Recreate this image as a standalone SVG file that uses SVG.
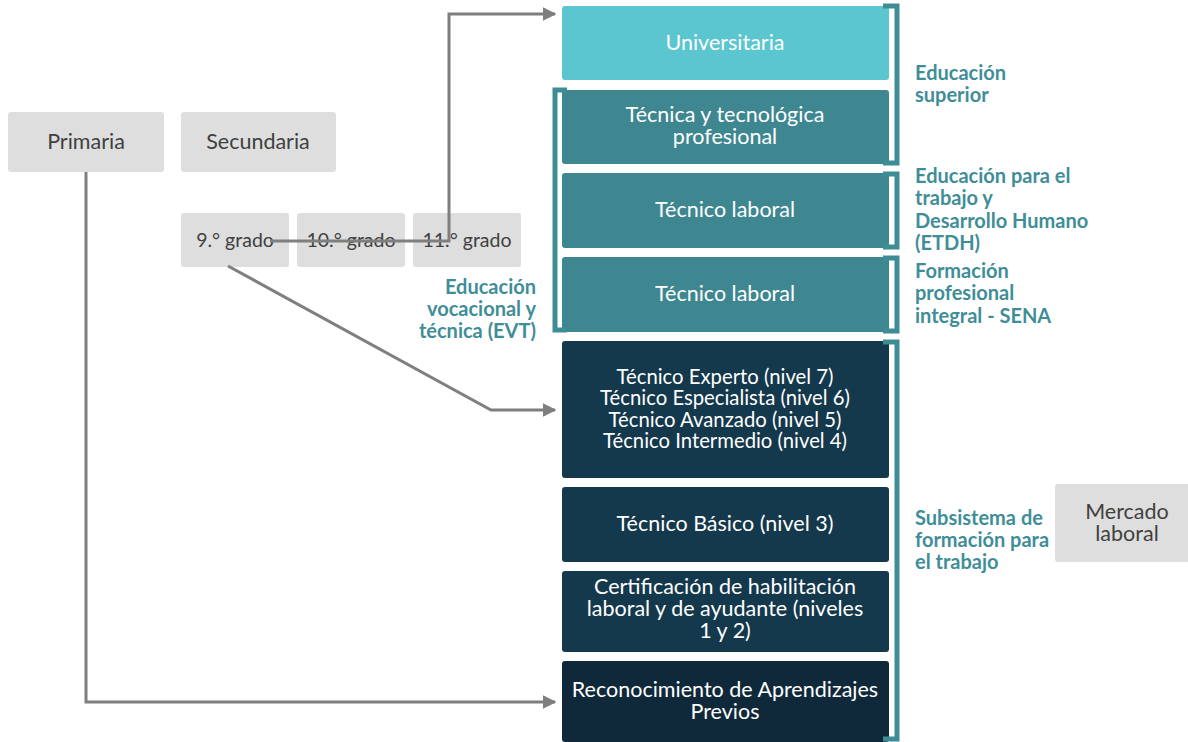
<svg xmlns="http://www.w3.org/2000/svg" width="1188" height="742" viewBox="0 0 1188 742">
<defs>
<marker id="arr" viewBox="0 0 10 10" refX="9" refY="5" markerWidth="4.5" markerHeight="4.5" markerUnits="strokeWidth" orient="auto">
<path d="M0,0 L10,5 L0,10 Z" fill="#7f7f7f"/>
</marker>
<style>
.g{fill:#dedede}
.gt{font-family:Lato,"Liberation Sans",sans-serif;font-size:21.5px;fill:#404040;text-anchor:middle}
.gs{font-size:19.5px}
.wt{font-family:Lato,"Liberation Sans",sans-serif;font-size:21.5px;fill:#ffffff;text-anchor:middle}
.ws{font-size:20.3px}
.lb{font-family:Lato,"Liberation Sans",sans-serif;font-size:20px;font-weight:bold;fill:#3f8e97}
.br{fill:none;stroke:#3e8d96;stroke-width:5}
.c{fill:none;stroke:#7f7f7f;stroke-width:3}
</style>
</defs>
<rect width="1188" height="742" fill="#ffffff"/>

<g id="primaria"><rect class="g" x="8" y="112" width="156" height="60" rx="3"/><text class="gt" x="86" y="149">Primaria</text></g>
<g id="secundaria"><rect class="g" x="181" y="112" width="155" height="60" rx="3"/><text class="gt" x="258" y="149">Secundaria</text></g>
<g id="grado9"><rect class="g" x="181" y="213" width="108" height="54" rx="3"/><text class="gt gs" x="235" y="247">9.° grado</text></g>
<g id="grado10"><rect class="g" x="297" y="213" width="108" height="54" rx="3"/><text class="gt gs" x="351" y="247">10.° grado</text></g>
<g id="grado11"><rect class="g" x="413" y="213" width="108" height="54" rx="3"/><text class="gt gs" x="467" y="247">11.° grado</text></g>

<g id="universitaria"><rect x="562" y="6" width="327" height="74" rx="3" fill="#5bc5d0"/><text class="wt" x="725" y="50">Universitaria</text></g>
<g id="tecnica-tecnologica"><rect x="562" y="90" width="327" height="74" rx="3" fill="#3e8791"/><text class="wt" x="725" y="122">Técnica y tecnológica</text><text class="wt" x="725" y="144">profesional</text></g>
<g id="tecnico-laboral-etdh"><rect x="562" y="173" width="327" height="75" rx="3" fill="#3e8791"/><text class="wt" x="725" y="217">Técnico laboral</text></g>
<g id="tecnico-laboral-sena"><rect x="562" y="257" width="327" height="75" rx="3" fill="#3e8791"/><text class="wt" x="725" y="301">Técnico laboral</text></g>
<g id="niveles-4-7"><rect x="562" y="341" width="327" height="137" rx="3" fill="#14384c"/>
<text class="wt ws" x="725" y="384">Técnico Experto (nivel 7)</text>
<text class="wt ws" x="725" y="405">Técnico Especialista (nivel 6)</text>
<text class="wt ws" x="725" y="427">Técnico Avanzado (nivel 5)</text>
<text class="wt ws" x="725" y="448">Técnico Intermedio (nivel 4)</text></g>
<g id="nivel-3"><rect x="562" y="487" width="327" height="75" rx="3" fill="#14384c"/><text class="wt" x="725" y="531">Técnico Básico (nivel 3)</text></g>
<g id="niveles-1-2"><rect x="562" y="571" width="327" height="81" rx="3" fill="#14384c"/>
<text class="wt" x="725" y="594">Certificación de habilitación</text>
<text class="wt" x="725" y="616">laboral y de ayudante (niveles</text>
<text class="wt" x="725" y="638">1 y 2)</text></g>
<g id="reconocimiento"><rect x="562" y="661" width="327" height="81" rx="3" fill="#10293a"/>
<text class="wt" x="725" y="697">Reconocimiento de Aprendizajes</text>
<text class="wt" x="725" y="719">Previos</text></g>

<g id="mercado-laboral"><rect class="g" x="1055" y="484" width="140" height="78" rx="3"/><text class="gt" x="1127" y="519">Mercado</text><text class="gt" x="1127" y="541">laboral</text></g>

<g id="brackets">
<path class="br" d="M883,6 H897 V163 H883"/>
<path class="br" d="M883,174 H897 V247 H883"/>
<path class="br" d="M883,258 H897 V331 H883"/>
<path class="br" d="M883,342 H897 V739 H883"/>
<path class="br" d="M567,90 H555 V330 H567"/>
</g>

<g id="labels">
<text class="lb" x="915" y="80">Educación</text>
<text class="lb" x="915" y="102">superior</text>
<text class="lb" x="915" y="183">Educación para el</text>
<text class="lb" x="915" y="205">trabajo y</text>
<text class="lb" x="915" y="228">Desarrollo Humano</text>
<text class="lb" x="915" y="250">(ETDH)</text>
<text class="lb" x="915" y="278">Formación</text>
<text class="lb" x="915" y="300">profesional</text>
<text class="lb" x="915" y="323">integral - SENA</text>
<text class="lb" x="915" y="525">Subsistema de</text>
<text class="lb" x="915" y="547">formación para</text>
<text class="lb" x="915" y="569">el trabajo</text>
<text class="lb" x="536" y="294" text-anchor="end">Educación</text>
<text class="lb" x="536" y="316" text-anchor="end">vocacional y</text>
<text class="lb" x="536" y="338" text-anchor="end">técnica (EVT)</text>
</g>

<g id="connectors">
<polyline class="c" points="270,241 449,241 449,14 555,14" marker-end="url(#arr)"/>
<polyline class="c" points="228,266 491,410 555,410" marker-end="url(#arr)"/>
<polyline class="c" points="86,172 86,702 555,702" marker-end="url(#arr)"/>
</g>
</svg>
